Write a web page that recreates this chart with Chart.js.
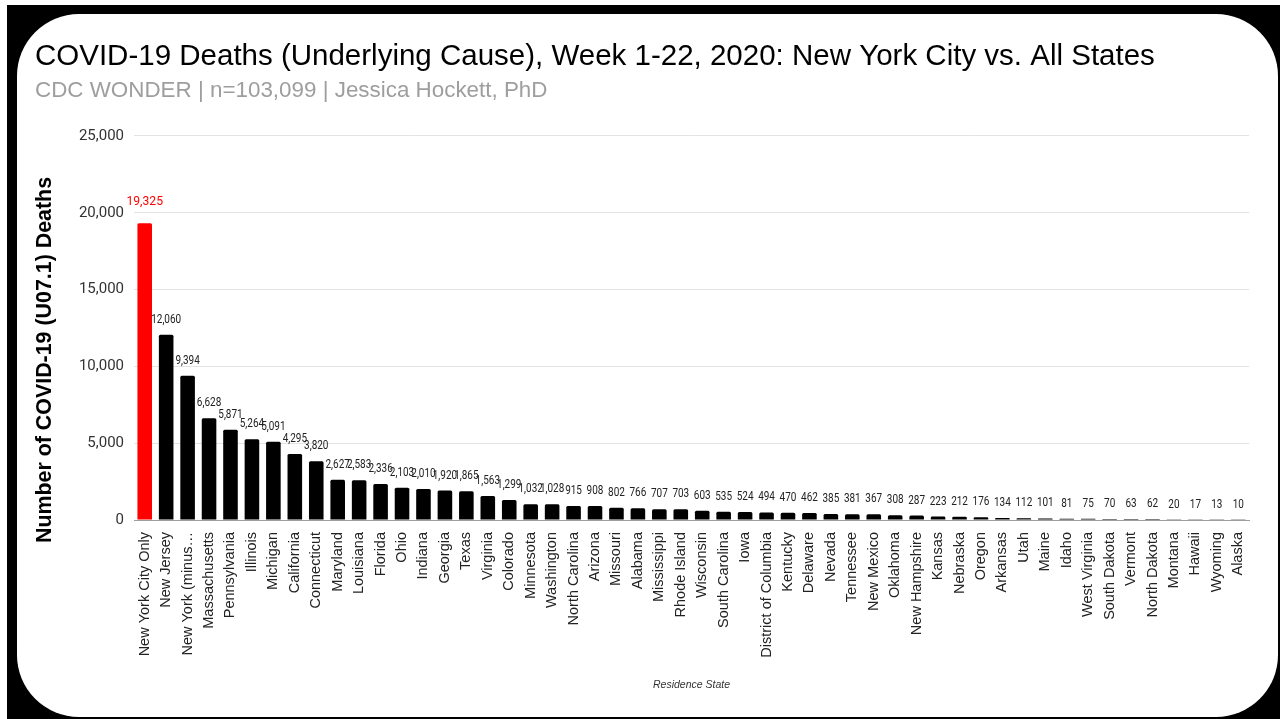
<!DOCTYPE html>
<html>
<head>
<meta charset="utf-8">
<script src="https://cdn.jsdelivr.net/npm/chart.js@4.4.1/dist/chart.umd.min.js"></script>
<style>
  html, body { margin: 0; padding: 0; background: #fff; }
  #frame { position: absolute; left: 7px; top: 5px; width: 1273px; height: 714px; background: #000; }
  #card { position: absolute; left: 17px; top: 14px; width: 1261px; height: 703px; background: #fff; border-radius: 62px; }
  #chart { position: absolute; left: 0; top: 0; }
</style>
</head>
<body>
<div id="frame"></div>
<div id="card"></div>
<canvas id="chart" width="1285" height="719"></canvas>
<script>
// ========== Dados ==========
const estados = [
  "New York City Only", "New Jersey", "New York (minus…", "Massachusetts", "Pennsylvania",
  "Illinois", "Michigan", "California", "Connecticut", "Maryland", "Louisiana", "Florida",
  "Ohio", "Indiana", "Georgia", "Texas", "Virginia", "Colorado", "Minnesota", "Washington",
  "North Carolina", "Arizona", "Missouri", "Alabama", "Mississippi", "Rhode Island",
  "Wisconsin", "South Carolina", "Iowa", "District of Columbia", "Kentucky", "Delaware",
  "Nevada", "Tennessee", "New Mexico", "Oklahoma", "New Hampshire", "Kansas", "Nebraska",
  "Oregon", "Arkansas", "Utah", "Maine", "Idaho", "West Virginia", "South Dakota",
  "Vermont", "North Dakota", "Montana", "Hawaii", "Wyoming", "Alaska"
];

const mortes = [
  19325, 12060, 9394, 6628, 5871, 5264, 5091, 4295, 3820, 2627, 2583, 2336,
  2103, 2010, 1920, 1865, 1563, 1299, 1032, 1028, 915, 908, 802, 766, 707, 703,
  603, 535, 524, 494, 470, 462, 385, 381, 367, 308, 287, 223, 212, 176, 134, 112,
  101, 81, 75, 70, 63, 62, 20, 17, 13, 10
];

const ticksY = [0, 5000, 10000, 15000, 20000, 25000];

const tituloY = "Number of COVID-19 (U07.1) Deaths";

const corBarras = mortes.map((_, i) => (i === 0 ? "#ff0000" : "#000000"));

// rótulos acima das barras + título do eixo Y
const rotulosPlugin = {
  id: "rotulos",
  afterDatasetsDraw(chart) {
    const ctx = chart.ctx;
    const meta = chart.getDatasetMeta(0);
    ctx.save();
    ctx.textAlign = "center";
    ctx.textBaseline = "bottom";
    meta.data.forEach((bar, i) => {
      const txt = mortes[i].toLocaleString("en-US");
      ctx.save();
      if (i === 0) {
        ctx.fillStyle = "#ff0000";
        ctx.font = "13.5px Roboto";
        ctx.translate(bar.x, bar.y - 15);
        ctx.scale(0.9, 1);
      } else {
        ctx.fillStyle = "#222222";
        ctx.font = "12px Roboto";
        ctx.translate(bar.x, bar.y - 9);
        ctx.scale(0.83, 1); // fonte "condensada"
      }
      ctx.fillText(txt, 0, 0);
      ctx.restore();
    });

    // título do eixo Y (deslocado para baixo como no original)
    ctx.translate(45, 360);
    ctx.rotate(-Math.PI / 2);
    ctx.textBaseline = "middle";
    ctx.fillStyle = "#000000";
    ctx.font = "bold 21.4px Liberation Sans";
    ctx.fillText(tituloY, 0, 0);
    ctx.restore();
  }
};

new Chart(document.getElementById("chart"), {
  type: "bar",
  data: {
    labels: estados,
    datasets: [
      {
        data: mortes,
        backgroundColor: corBarras,
        barPercentage: 0.68,
        categoryPercentage: 1.0,
        borderRadius: 1.5,
        borderSkipped: "bottom"
      }
    ]
  },
  options: {
    responsive: false,
    animation: false,
    layout: { padding: { left: 35, right: 36, top: 14, bottom: 16 } },
    plugins: {
      legend: { display: false },
      tooltip: { enabled: false },
      title: {
        display: true,
        text: "COVID-19 Deaths (Underlying Cause), Week 1-22, 2020: New York City vs. All States",
        align: "start",
        color: "#000000",
        font: { family: "Liberation Sans", size: 29.5, weight: "normal", lineHeight: 1.2 },
        padding: { top: 24.8, bottom: 0 }
      },
      subtitle: {
        display: true,
        text: "CDC WONDER | n=103,099 | Jessica Hockett, PhD",
        align: "start",
        color: "#9e9e9e",
        font: { family: "Liberation Sans", size: 22.4, lineHeight: 1.2 },
        padding: { top: 3.4, bottom: 31.5 }
      }
    },
    scales: {
      x: {
        grid: { display: false },
        border: { display: true, color: "#9e9e9e", width: 1 },
        ticks: {
          autoSkip: false,
          minRotation: 90,
          maxRotation: 90,
          color: "#222222",
          padding: 4,
          font: { family: "Liberation Sans", size: 14.5 }
        },
        title: {
          display: true,
          text: "Residence State",
          color: "#333333",
          font: { family: "Liberation Sans", size: 10.5, style: "italic" },
          padding: { top: 0, bottom: 12 }
        },
        afterFit(scale) { scale.height = 183; }
      },
      y: {
        min: 0,
        max: 25000,
        afterBuildTicks(scale) { scale.ticks = ticksY.map((v) => ({ value: v })); },
        grid: { color: "#e3e3e3", drawTicks: false },
        border: { display: false },
        ticks: {
          color: "#333333",
          padding: 10,
          font: { family: "Roboto", size: 15 },
          callback: (v) => v.toLocaleString("en-US")
        },
        afterFit(scale) { scale.width = 99; }
      }
    }
  },
  plugins: [rotulosPlugin]
});
</script>
</body>
</html>
